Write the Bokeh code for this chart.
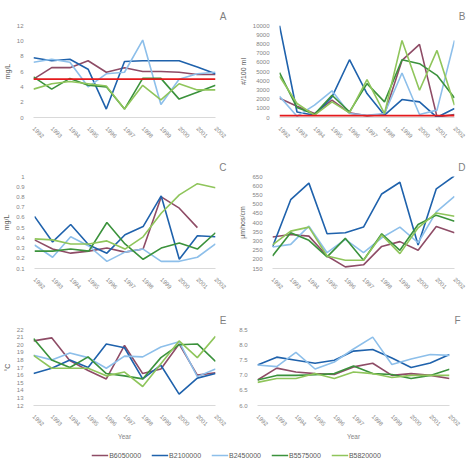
import math

from bokeh.embed import file_html
from bokeh.layouts import column, row
from bokeh.models import (CustomJSTickFormatter, FixedTicker, Legend,
                          LegendItem, Range1d, Span)
from bokeh.plotting import figure
from bokeh.resources import INLINE

NAN = float("nan")

YEARS = list(range(1992, 2003))
STATIONS = ["B6050000", "B2100000", "B2450000", "B5575000", "B5820000"]
COLORS = ["#8E4C66", "#1F62AC", "#8DBFEA", "#3B923C", "#8FC55B"]

# A - dissolved oxygen (mg/L)
DO = {
    "B6050000": [5.0, 6.5, 6.5, 7.4, 5.9, 6.5, 6.0, 6.0, 5.9, 5.6, 5.6],
    "B2100000": [7.8, 7.4, 7.6, 6.3, 1.1, 7.3, 7.4, 7.4, 7.4, 6.6, 5.7],
    "B2450000": [7.2, 7.6, 7.2, 4.0, 5.7, 5.9, 10.1, 1.7, 5.0, 5.7, 5.9],
    "B5575000": [5.3, 3.7, 5.1, 4.2, 4.0, 1.1, 5.1, 5.1, 2.4, 3.3, 4.2],
    "B5820000": [3.7, 4.4, 4.7, 4.4, 4.1, 1.1, 4.2, 2.3, 4.4, 3.6, 3.6],
}
DO_STANDARD = 5
DO_TICKS = [0, 2, 4, 6, 8, 10, 12]

# B - fecal coliform (#/100 ml)
FC = {
    "B6050000": [2100, 1230, 430, 1880, 500, 180, 360, 6200, 7950, 70, 320],
    "B2100000": [10000, 600, 250, 2240, 6280, 2600, 250, 1950, 1700, 20, 970],
    "B2450000": [2300, 140, 1340, 2900, 430, 250, 430, 4840, 320, 800, 8380],
    "B5575000": [4870, 1080, 360, 2420, 610, 3680, 1700, 6280, 5850, 4580, 2130],
    "B5820000": [4480, 1520, 250, 1700, 500, 4120, 430, 8380, 2960, 7290, 1340],
}
FC_STANDARD = 200
FC_TICKS = list(range(0, 10001, 1000))

# C - total phosphorus (mg/L)
TP = {
    "B6050000": [0.38, 0.29, 0.25, 0.27, 0.30, 0.26, 0.29, 0.80, 0.69, 0.50, NAN],
    "B2100000": [0.61, 0.36, 0.53, 0.33, 0.25, 0.43, 0.51, 0.81, 0.19, 0.42, 0.41],
    "B2450000": [0.33, 0.21, 0.41, 0.32, 0.17, 0.26, 0.29, 0.17, 0.17, 0.21, 0.34],
    "B5575000": [0.27, 0.27, 0.29, 0.27, 0.55, 0.34, 0.19, 0.30, 0.35, 0.29, 0.45],
    "B5820000": [0.39, 0.38, 0.34, 0.34, 0.37, 0.29, 0.41, 0.64, 0.82, 0.93, 0.89],
}
TP_TICKS = [0.1, 0.2, 0.3, 0.4, 0.5, 0.6, 0.7, 0.8, 0.9, 1.0]

# D - specific conductance (µmhos/cm)
SC = {
    "B6050000": [321, 335, 326, 218, 159, 170, 270, 296, 249, 378, 344],
    "B2100000": [267, 524, 614, 339, 344, 375, 555, 619, 278, 583, 654],
    "B2450000": [267, 281, 380, 236, 308, 236, 317, 375, 290, 458, 542],
    "B5575000": [218, 344, 303, 213, 314, 195, 339, 249, 389, 440, 407],
    "B5820000": [278, 353, 375, 218, 195, 195, 332, 231, 371, 452, 434],
}
SC_TICKS = list(range(150, 651, 50))

# E - water temperature (°C)
WT = {
    "B6050000": [20.5, 20.9, 17.9, 16.6, 15.5, 19.9, 16.2, 16.8, 20.1, 16.0, 16.3],
    "B2100000": [16.2, 16.9, 18.0, 17.0, 20.1, 19.6, 15.5, 17.3, 13.5, 15.6, 16.2],
    "B2450000": [18.6, 18.0, 18.9, 18.3, 16.9, 18.5, 18.4, 19.7, 20.4, 15.8, 16.8],
    "B5575000": [20.8, 18.0, 17.0, 18.4, 16.2, 15.9, 15.5, 18.3, 20.0, 20.1, 17.8],
    "B5820000": [18.6, 16.9, 16.9, 16.9, 15.9, 16.4, 14.5, 17.5, 20.5, 18.3, 21.1],
}
WT_TICKS = list(range(12, 23))

# F - pH
PH = {
    "B6050000": [6.84, 7.23, 7.10, 7.05, 7.02, 7.27, 7.39, 6.99, 7.05, 6.99, 6.89],
    "B2100000": [7.33, 7.59, 7.49, 7.39, 7.49, 7.79, 7.84, 7.56, 7.25, 7.40, 7.68],
    "B2450000": [7.33, 7.28, 7.75, 7.20, 7.43, 7.86, 8.25, 7.35, 7.53, 7.68, 7.65],
    "B5575000": [6.84, 6.99, 6.99, 7.01, 7.05, 7.30, 7.05, 7.02, 6.89, 6.99, 7.19],
    "B5820000": [6.76, 6.89, 6.89, 7.05, 6.89, 7.10, 7.05, 6.92, 6.99, 6.99, 6.99],
}
PH_TICKS = [6.0, 6.5, 7.0, 7.5, 8.0, 8.5]

FONT = "Liberation Sans"
TICK_GREY = "#858585"
TEXT_GREY = "#595959"


def panel(series, ticks, fmt, ylabel, letter, width, height, borders,
          threshold=None, xlabel=None):
    left, right, top, bottom = borders
    p = figure(width=width, height=height, output_backend="svg",
               toolbar_location=None, title=letter,
               x_range=Range1d(YEARS[0], YEARS[-1]),
               y_range=Range1d(ticks[0], ticks[-1]),
               min_border_left=left, min_border_right=right,
               min_border_top=top, min_border_bottom=bottom)
    p.outline_line_color = None
    p.grid.visible = False
    p.background_fill_color = "white"
    p.border_fill_color = "white"

    # panel letter, pushed just past the right edge of the plot area
    p.title.align = "right"
    p.title.offset = -11
    p.title.standoff = 8
    p.title.text_font = FONT
    p.title.text_font_size = "10px"
    p.title.text_font_style = "normal"
    p.title.text_color = "#7F7F7F"

    for name, color in zip(STATIONS, COLORS):
        p.line(YEARS, series[name], line_color=color, line_width=1.6)

    if threshold is not None:
        p.add_layout(Span(location=threshold, dimension="width",
                          line_color="#E41A1C", line_width=1.6))

    xa = p.xaxis[0]
    xa.ticker = FixedTicker(ticks=YEARS)
    xa.major_label_orientation = -math.pi / 4
    xa.major_label_text_font = FONT
    xa.major_label_text_font_size = "6px"
    xa.major_label_text_color = TICK_GREY
    xa.major_label_standoff = 4
    xa.major_tick_line_color = None
    xa.minor_tick_line_color = None
    xa.axis_line_color = "#D9D9D9"
    if xlabel:
        xa.axis_label = xlabel
        xa.axis_label_text_font = FONT
        xa.axis_label_text_font_size = "6.5px"
        xa.axis_label_text_font_style = "normal"
        xa.axis_label_text_color = TICK_GREY
        xa.axis_label_standoff = 2

    ya = p.yaxis[0]
    ya.ticker = FixedTicker(ticks=ticks)
    ya.formatter = CustomJSTickFormatter(code=fmt)
    ya.major_label_text_font = FONT
    ya.major_label_text_font_size = "6px"
    ya.major_label_text_color = TICK_GREY
    ya.major_label_standoff = 4
    ya.major_tick_line_color = None
    ya.minor_tick_line_color = None
    ya.axis_line_color = None
    if ylabel:
        ya.axis_label = ylabel
        ya.axis_label_text_font = FONT
        ya.axis_label_text_font_size = "7px"
        ya.axis_label_text_font_style = "normal"
        ya.axis_label_text_color = TEXT_GREY
        ya.axis_label_standoff = 3
    return p


INT = "return tick.toFixed(0);"
ONE_DEC = "return tick.toFixed(1);"
TRIM = "return tick.toFixed(1).replace(/\\.0$/, '');"

pa = panel(DO, DO_TICKS, INT, "mg/L", "A", 236, 150, (31, 21, 25, 32),
           threshold=DO_STANDARD)
pb = panel(FC, FC_TICKS, INT, "#/100 ml", "B", 236, 150, (42, 18, 25, 33),
           threshold=FC_STANDARD)
pc = panel(TP, TP_TICKS, TRIM, "mg/L", "C", 236, 150, (32, 21, 26, 32))
pd = panel(SC, SC_TICKS, INT, "µmhos/cm", "D", 236, 150, (35, 18, 25, 32))
pe = panel(WT, WT_TICKS, INT, "°C", "E", 236, 142, (32, 21, 29, 34),
           xlabel="Year")
pf = panel(PH, PH_TICKS, ONE_DEC, None, "F", 236, 142, (21, 23, 26, 35),
           xlabel="Year")

# shared legend strip; its line renderers sit outside the visible range
leg = figure(width=472, height=26, output_backend="svg", toolbar_location=None,
             x_range=Range1d(0, 1), y_range=Range1d(0, 1),
             x_axis_location=None, y_axis_location=None, min_border=0)
leg.outline_line_color = None
leg.grid.visible = False
items = []
for name, color in zip(STATIONS, COLORS):
    r = leg.line(x=[-5, -4], y=[-5, -4], line_color=color, line_width=1.6)
    items.append(LegendItem(label=name, renderers=[r]))
legend = Legend(items=items, orientation="horizontal", location="center",
                label_text_font=FONT, label_text_font_size="7px",
                label_text_color=TEXT_GREY, glyph_width=17, glyph_height=8,
                label_standoff=1, spacing=10, padding=0, margin=0,
                border_line_color=None, background_fill_alpha=0)
leg.add_layout(legend, "center")

layout = column(row(pa, pb), row(pc, pd), row(pe, pf), leg)

with open("out.html", "w") as f:
    f.write(file_html(layout, INLINE))
